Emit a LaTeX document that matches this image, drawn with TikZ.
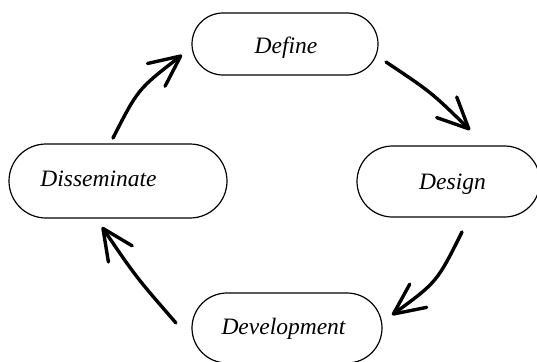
\documentclass[tikz,border=0pt]{standalone}
\usepackage{fontspec}
\setmainfont{Liberation Serif}
\usetikzlibrary{arrows.meta}
\begin{document}
\begin{tikzpicture}[x=1pt,y=-1pt,
  phase/.style={draw, line width=1.2pt, rectangle, inner sep=0pt},
  phasetext/.style={font=\fontsize{23.5}{28}\selectfont\itshape, inner sep=0pt, anchor=base},
  cyclearrow/.style={line width=3.4pt, line cap=round, line join=round,
    -{Straight Barb[angle=50:34pt, line cap=round, line join=round]}}
]
% canvas
\fill[white] (0,0) rectangle (537,361);
\useasboundingbox (0,0) rectangle (537,361);

% phase boxes (stadium outlines)
\node[phase, rounded corners=31pt, minimum width=186pt, minimum height=62pt] (def) at (285,44) {};
\node[phase, rounded corners=35.5pt, minimum width=183pt, minimum height=71pt] (des) at (448.5,181.5) {};
\node[phase, rounded corners=35pt, minimum width=190pt, minimum height=70pt] (dev) at (287,328) {};
\node[phase, rounded corners=37pt, minimum width=218pt, minimum height=74pt] (dis) at (118,181) {};

% phase names
\node[phasetext] (def-t) at (286,53) {Define};
\node[phasetext] (des-t) at (452.5,189) {Design};
\node[phasetext] (dev-t) at (283.5,334) {Development};
\node[phasetext] (dis-t) at (98.5,186.5) {Disseminate};

% arrow end points between the boxes
\coordinate (a1s) at (386,62);  \coordinate (a1e) at (470,130);
\coordinate (a2s) at (462,232); \coordinate (a2e) at (392,315);
\coordinate (a3s) at (176,323); \coordinate (a3e) at (102,227);
\coordinate (a4s) at (113,138); \coordinate (a4e) at (182,55);

% cycle arrows
\draw[cyclearrow] (a1s) .. controls (431,92) .. (a1e);
\draw[cyclearrow] (a2s) .. controls (437,282) .. (a2e);
\draw[cyclearrow] (a3s) .. controls (136,277) .. (a3e);
\draw[cyclearrow] (a4s) .. controls (138,89) .. (a4e);
\end{tikzpicture}
\end{document}
